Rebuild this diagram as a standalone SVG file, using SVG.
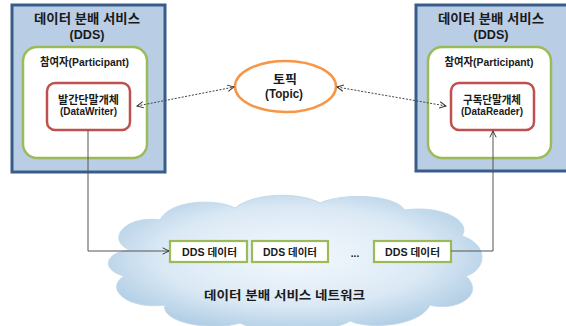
<svg xmlns="http://www.w3.org/2000/svg" width="566" height="326" viewBox="0 0 566 326">
<style>
text{font-family:"Liberation Sans","Noto Sans CJK KR",sans-serif;font-weight:bold;fill:#1a1a1a;text-anchor:middle}
.dds{fill:#b9cde5;stroke:#385d8a;stroke-width:3}
.part{fill:#fff;stroke:#9bbb59;stroke-width:2.5}
.ent{fill:#fff;stroke:#c0504d;stroke-width:2.5}
.data{fill:#fff;stroke:#9bbb59;stroke-width:2.2}
.t1{font-size:13px}
.t2{font-size:11px}
.t3{font-size:10px}
.dash{fill:none;stroke:#444;stroke-width:1;stroke-dasharray:2 1.5}
.line{fill:none;stroke:#555;stroke-width:1}
</style>
<defs>
<marker id="arr" viewBox="0 0 10 10" refX="9" refY="5" markerWidth="8" markerHeight="8" orient="auto-start-reverse" markerUnits="userSpaceOnUse">
<path d="M1 1 L9 5 L1 9" fill="none" stroke="#333" stroke-width="1.2"/>
</marker>
<radialGradient id="cg" cx="0.5" cy="0.45" r="0.6">
<stop offset="0" stop-color="#f4f9fd"/>
<stop offset="0.6" stop-color="#dbe9f5"/>
<stop offset="1" stop-color="#a9c9e2"/>
</radialGradient>
</defs>
<g id="cloud">
<path d="M130 250 C105 240,125 215,160 220 C170 200,215 198,235 208 C255 192,300 192,320 203 C345 192,395 195,405 210 C440 205,472 220,462 236 C490 245,486 270,466 276 C486 295,456 312,430 305 C420 326,370 330,350 321 C330 334,260 334,240 323 C210 332,160 322,165 305 C130 310,103 290,124 276 C100 270,105 252,130 250 Z" fill="url(#cg)" stroke="#c5d9ea" stroke-width="1"/>
<text x="284.5" y="300" font-size="12.5" textLength="161" lengthAdjust="spacingAndGlyphs">데이터 분배 서비스 네트워크</text>
</g>
<g id="dds-left">
<rect class="dds" x="12" y="5" width="153" height="167"/>
<text class="t1" x="87" y="23" textLength="106" lengthAdjust="spacingAndGlyphs">데이터 분배 서비스</text>
<text class="t1" x="87" y="38.5" textLength="35" lengthAdjust="spacingAndGlyphs">(DDS)</text>
</g>
<g id="participant-left">
<rect class="part" x="23" y="47" width="124" height="111" rx="14"/>
<text class="t2" x="84.5" y="66" textLength="89" lengthAdjust="spacingAndGlyphs">참여자(Participant)</text>
</g>
<g id="writer">
<rect class="ent" x="47" y="83" width="83" height="47" rx="8"/>
<text class="t2" x="88.5" y="103.5" textLength="61" lengthAdjust="spacingAndGlyphs">발간단말개체</text>
<text class="t2" x="88.5" y="115" textLength="57" lengthAdjust="spacingAndGlyphs">(DataWriter)</text>
</g>
<g id="dds-right">
<rect class="dds" x="416" y="5" width="153" height="166"/>
<text class="t1" x="491" y="23" textLength="106" lengthAdjust="spacingAndGlyphs">데이터 분배 서비스</text>
<text class="t1" x="491" y="38.5" textLength="35" lengthAdjust="spacingAndGlyphs">(DDS)</text>
</g>
<g id="participant-right">
<rect class="part" x="428" y="47" width="123" height="111" rx="14"/>
<text class="t2" x="489" y="66" textLength="89" lengthAdjust="spacingAndGlyphs">참여자(Participant)</text>
</g>
<g id="reader">
<rect class="ent" x="451" y="83" width="83" height="47" rx="8"/>
<text class="t2" x="492" y="103.5" textLength="58" lengthAdjust="spacingAndGlyphs">구독단말개체</text>
<text class="t2" x="492" y="115" textLength="62" lengthAdjust="spacingAndGlyphs">(DataReader)</text>
</g>
<g id="topic">
<ellipse cx="285.5" cy="86.5" rx="50.5" ry="25.5" fill="#fff" stroke="#f79646" stroke-width="2.5"/>
<text x="285" y="84" font-size="12.5" textLength="24" lengthAdjust="spacingAndGlyphs">토픽</text>
<text x="284" y="97.5" font-size="12.5" textLength="38" lengthAdjust="spacingAndGlyphs">(Topic)</text>
</g>
<g id="data1">
<rect class="data" x="170" y="241" width="77" height="21"/>
<text class="t3" x="209.5" y="256" textLength="55" lengthAdjust="spacingAndGlyphs">DDS 데이터</text>
</g>
<g id="data2">
<rect class="data" x="252" y="241" width="76" height="21"/>
<text class="t3" x="290" y="256" textLength="54" lengthAdjust="spacingAndGlyphs">DDS 데이터</text>
</g>
<g id="ellipsis">
<text class="t3" x="355" y="257">...</text>
</g>
<g id="data3">
<rect class="data" x="374" y="241" width="77" height="21"/>
<text class="t3" x="412.5" y="256" textLength="55" lengthAdjust="spacingAndGlyphs">DDS 데이터</text>
</g>
<g id="connectors">
<path class="dash" d="M137 106 L234 87" marker-start="url(#arr)" marker-end="url(#arr)"/>
<path class="dash" d="M337 87 L446 106" marker-start="url(#arr)" marker-end="url(#arr)"/>
<path class="line" d="M88 130 L88 251 L169 251" marker-end="url(#arr)"/>
<path class="line" d="M451 251 L493 251 L493 131" marker-end="url(#arr)"/>
</g>
</svg>
